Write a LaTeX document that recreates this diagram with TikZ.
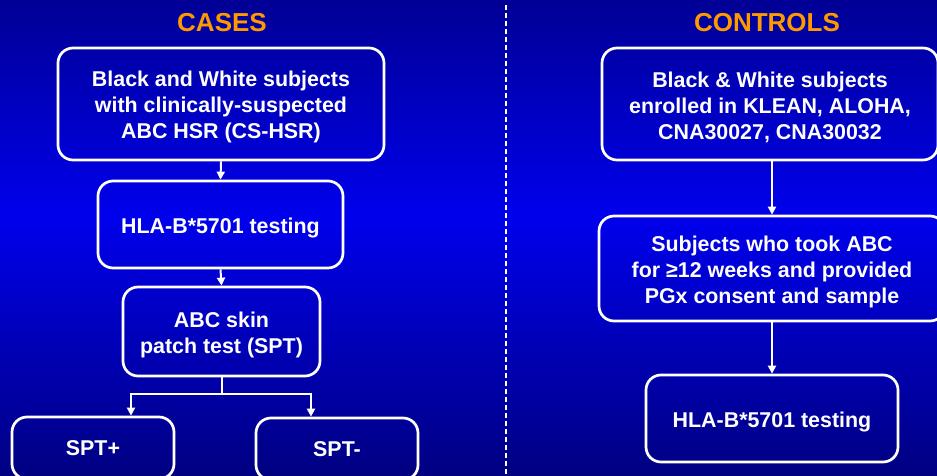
\documentclass[tikz,border=0pt]{standalone}
\usepackage{fontspec}
\setmainfont{Liberation Sans}
\usetikzlibrary{arrows.meta}
\definecolor{bgtop}{RGB}{0,0,150}
\definecolor{bgmid}{RGB}{0,0,236}
\definecolor{bgbot}{RGB}{0,0,128}
\definecolor{ttl}{RGB}{255,153,0}
\newcommand\tup{\rule{0pt}{21.8pt}}
\tikzset{
  box/.style={draw=white, line width=2.7pt, rounded corners=15pt, align=center,
    text=white, font=\bfseries\fontsize{21.4}{26}\selectfont, inner sep=0pt},
  arr/.style={draw=white, line width=2pt, -{Triangle[width=8pt,length=8pt]}},
  ln/.style={draw=white, line width=2pt},
  ttlstyle/.style={text=ttl, font=\bfseries\fontsize{26}{30}\selectfont},
}
\begin{document}
\begin{tikzpicture}[x=1pt,y=-1pt]
\useasboundingbox (0,0) rectangle (937,476);
\clip (0,0) rectangle (937,476);
\foreach \i in {0,2,...,214}{
  \pgfmathtruncatemacro{\p}{\i/2.14}
  \fill[bgmid!\p!bgtop] (0,\i) rectangle (937,\i+2.5);
}
\foreach \i in {216,218,...,476}{
  \pgfmathtruncatemacro{\p}{(\i-216)/2.6}
  \fill[bgbot!\p!bgmid] (0,\i) rectangle (937,\i+2.5);
}
\draw[white, line width=1.2pt, dash pattern=on 5pt off 3pt] (506,5) -- (506,476);
\node[ttlstyle] (tcases) at (222,23) {CASES};
\node[ttlstyle] (tcontrols) at (767,23) {CONTROLS};
\node[box, minimum width=326pt, minimum height=112pt] (b1) at (221,104)
  {\tup Black and White subjects\\with clinically-suspected\\ABC HSR (CS-HSR)};
\node[box, minimum width=245pt, minimum height=87pt] (b2) at (220.5,224.5)
  {\tup HLA-B*5701 testing};
\node[box, minimum width=197pt, minimum height=89pt] (b3) at (221.5,331.5)
  {\tup ABC skin\\patch test (SPT)};
\node[box, minimum width=162pt, minimum height=62pt] (sptp) at (93,448)
  {SPT+};
\node[box, minimum width=162pt, minimum height=62pt] (sptm) at (337,449)
  {SPT-};
\node[box, minimum width=336pt, minimum height=112pt] (c1) at (770,104)
  {\tup Black \& White subjects\\enrolled in KLEAN, ALOHA,\\CNA30027, CNA30032};
\node[box, minimum width=346pt, minimum height=105pt] (c2) at (772,268.5)
  {\tup Subjects who took ABC\\for ≥12 weeks and provided\\PGx consent and sample};
\node[box, minimum width=252pt, minimum height=87pt] (c3) at (772,418.5)
  {\tup HLA-B*5701 testing};
\draw[arr] (b1.south) -- (b2.north);
\draw[arr] (b2.south) -- (b3.north);
\draw[ln] (b3.south) -- ++(0,17) coordinate (j);
\draw[arr] (j) -| ([xshift=38pt]sptp.north);
\draw[arr] (j) -| ([xshift=-26pt]sptm.north);
\draw[arr] ([xshift=2pt]c1.south) -- (c2.north);
\draw[arr] (c2.south) -- (c3.north);
\end{tikzpicture}
\end{document}
